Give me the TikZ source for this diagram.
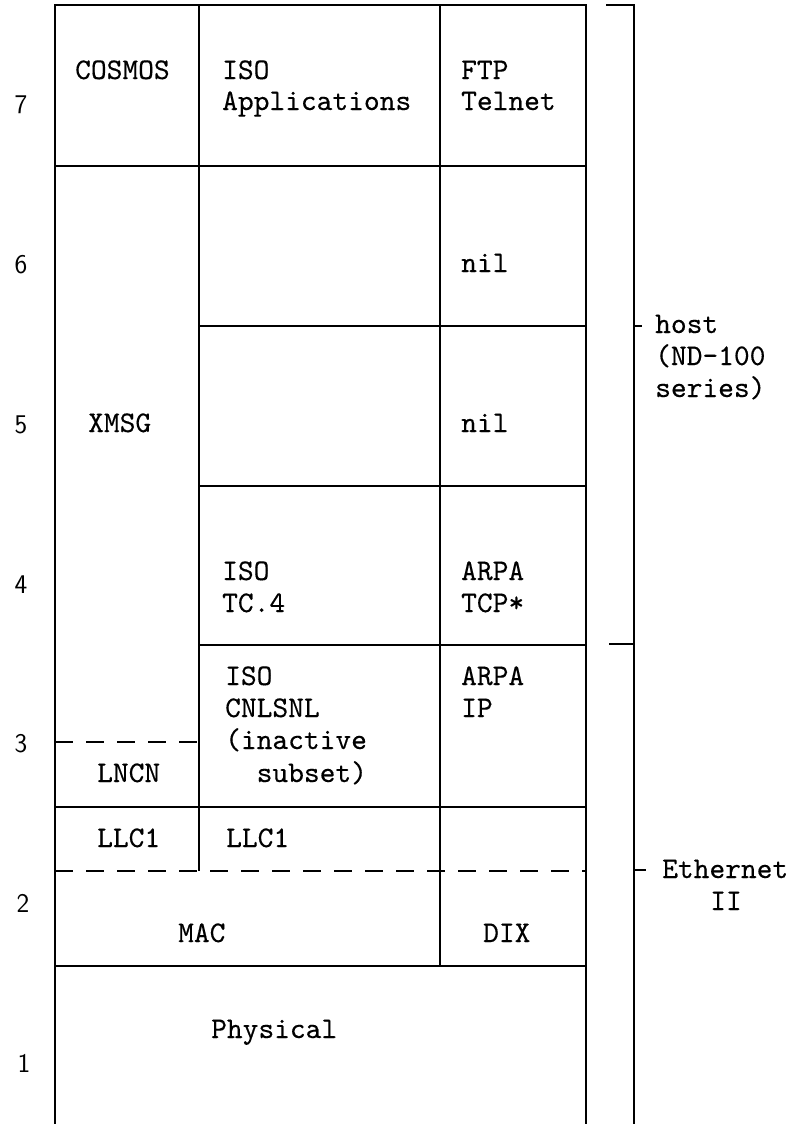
\documentclass[tikz,border=0pt]{standalone}
\usepackage{fontspec}
\newfontfamily\tw[FakeBold=0.3]{lmmono10-regular.otf}
\tikzset{
  rule/.style={line width=1.3pt},
  dashrule/.style={line width=1.3pt, dash pattern=on 18pt off 13pt},
  lbl/.style={inner sep=0pt, anchor=base west, font=\tw\fontsize{30}{32}\selectfont},
  clbl/.style={inner sep=0pt, anchor=base, font=\tw\fontsize{30}{32}\selectfont},
  num/.style={inner sep=0pt, anchor=center, font=\sffamily\fontsize{27}{30}\selectfont},
}
\begin{document}
\begin{tikzpicture}[x=1pt,y=-1pt]
\useasboundingbox (0,0) rectangle (798,1124);
% frame
\draw[rule] (55,1124) -- (55,5) -- (586,5) -- (586,1124);
% columns
\draw[rule] (199,5) -- (199,871);
\draw[rule] (440,5) -- (440,966);
% rows
\draw[rule] (55,166) -- (586,166);
\draw[rule] (199,326) -- (586,326);
\draw[rule] (199,486) -- (586,486);
\draw[rule] (199,645) -- (586,645);
\draw[dashrule] (55,742) -- (199,742);
\draw[rule] (55,807) -- (586,807);
\draw[dashrule] (55,871) -- (586,871);
\draw[rule] (55,966) -- (586,966);
% brackets
\draw[rule] (606,5) -- (634,5) -- (634,1124);
\draw[rule] (609,644) -- (634,644);
\draw[rule] (634,326) -- (642,326);
\draw[rule] (634,870) -- (646,870);
% layer numbers
\node[num] (n7) at (21,105) {7};
\node[num] (n6) at (21,265) {6};
\node[num] (n5) at (21,425) {5};
\node[num] (n4) at (21,585) {4};
\node[num] (n3) at (21,744) {3};
\node[num] (n2) at (23,903) {2};
\node[num] (n1) at (24,1063) {1};
% layer 7
\node[lbl] (cosmos) at (75,79) {COSMOS};
\node[lbl] (isoa) at (222,79) {ISO};
\node[lbl] (isoapp) at (222,110) {Applications};
\node[lbl] (ftp) at (461,79) {FTP};
\node[lbl] (telnet) at (461,110) {Telnet};
% layer 6/5
\node[lbl] (nil6) at (461,272) {nil};
\node[lbl] (xmsg) at (88,432) {XMSG};
\node[lbl] (nil5) at (461,432) {nil};
% layer 4
\node[lbl] (iso4) at (222,580) {ISO};
\node[lbl] (tc4) at (222,612) {TC.4};
\node[lbl] (arpa4) at (461,580) {ARPA};
\node[lbl] (tcp) at (461,612) {TCP*};
% layer 3
\node[lbl] (iso3) at (225,685) {ISO};
\node[lbl] (cnl) at (225,717) {CNLSNL};
\node[lbl] (inact) at (225,749) {(inactive};
\node[lbl] (subset) at (225,782) {\ \ subset)};
\node[lbl] (arpa3) at (461,685) {ARPA};
\node[lbl] (ip) at (461,717) {IP};
\node[lbl] (lncn) at (97,782) {LNCN};
% layer 2
\node[lbl] (llca) at (97,847) {LLC1};
\node[lbl] (llcb) at (226,847) {LLC1};
\node[lbl] (mac) at (178,942) {MAC};
\node[lbl] (dix) at (483,942) {DIX};
% layer 1
\node[lbl] (phys) at (211,1038) {Physical};
% bracket labels
\node[lbl] (host) at (655,333) {host};
\node[lbl] (nd) at (655,365) {(ND-100};
\node[lbl] (series) at (655,397) {series)};
\node[lbl] (eth) at (662,878) {Ethernet};
\node[clbl] (ii) at (726,910) {II};
\end{tikzpicture}
\end{document}
